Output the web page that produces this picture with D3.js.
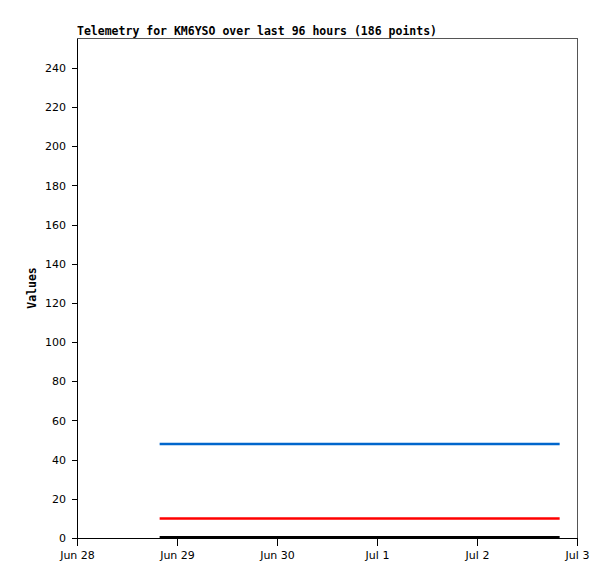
<!DOCTYPE html>
<html>
<head>
<meta charset="utf-8">
<script src="https://cdn.jsdelivr.net/npm/d3@7"></script>
<style>
  body { margin: 0; background: #fff; }
  .axis text { font-family: "DejaVu Sans", sans-serif; font-size: 11px; fill: #000; }
  .axis path, .axis line { stroke: #000; shape-rendering: crispEdges; }
</style>
</head>
<body>
<div id="chart"></div>
<script>
var margin = { top: 38, left: 77, right: 38, bottom: 41 };
var width = 615, height = 579;

// series readings (hourly-ish samples, values constant over the window)
var times = ['2025-06-28T19:50', '2025-06-29T12:00', '2025-06-30T12:00', '2025-07-01T12:00', '2025-07-02T12:00', '2025-07-02T19:50'];
var ch1 = [48, 48, 48, 48, 48, 48];
var ch2 = [10, 10, 10, 10, 10, 10];
var ch3 = [0.4, 0.4, 0.4, 0.4, 0.4, 0.4];
var seriesColors = ['#0066cc', '#ff0000', '#000000'];
var xTicks = ['2025-06-28', '2025-06-29', '2025-06-30', '2025-07-01', '2025-07-02', '2025-07-03'];
var yTicks = [0, 20, 40, 60, 80, 100, 120, 140, 160, 180, 200, 220, 240];

var parse = d3.timeParse('%Y-%m-%dT%H:%M');
var parseDay = d3.timeParse('%Y-%m-%d');

var svg = d3.select('#chart').append('svg')
  .attr('width', width).attr('height', height)
  .append('g')
  .attr('transform', 'translate(' + margin.left + ',' + margin.top + ')');

width = width - margin.left - margin.right;
height = height - margin.top - margin.bottom;

var x = d3.scaleTime()
  .domain([parseDay(xTicks[0]), parseDay(xTicks[xTicks.length - 1])])
  .range([0, width]);
var y = d3.scaleLinear().domain([0, 255.3]).range([height, 0]);

// frame (top and right)
svg.append('path')
  .attr('d', 'M0,0.5H' + (width + 0.5) + 'V' + height)
  .attr('fill', 'none').attr('stroke', '#555').attr('shape-rendering', 'crispEdges');

var line = d3.line()
  .x(function(d) { return x(d.t); })
  .y(function(d) { return y(d.v); });

[ch1, ch2, ch3].forEach(function(vals, i) {
  var data = times.map(function(t, j) { return { t: parse(t), v: vals[j] }; });
  svg.append('path')
    .datum(data)
    .attr('fill', 'none')
    .attr('stroke', seriesColors[i])
    .attr('stroke-width', 2.5)
    .attr('d', line);
});

var xAxis = d3.axisBottom(x)
  .tickValues(xTicks.map(parseDay))
  .tickFormat(d3.timeFormat('%b %-d'))
  .tickSize(8).tickSizeOuter(0).tickPadding(5);
svg.append('g').attr('class', 'axis')
  .attr('transform', 'translate(0,' + height + ')')
  .call(xAxis);

var yAxis = d3.axisLeft(y).tickValues(yTicks).tickSize(5).tickSizeOuter(0).tickPadding(6);
svg.append('g').attr('class', 'axis').call(yAxis);

svg.append('text')
  .attr('x', 0).attr('y', -3)
  .style('font-family', '"DejaVu Sans Mono", monospace')
  .style('font-size', '11.5px').style('font-weight', 'bold')
  .text('Telemetry for KM6YSO over last 96 hours (186 points)');

svg.append('text')
  .attr('transform', 'rotate(-90)')
  .attr('x', -height / 2).attr('y', -41)
  .attr('text-anchor', 'middle')
  .style('font-family', '"DejaVu Sans Mono", monospace')
  .style('font-size', '11.5px').style('font-weight', 'bold')
  .text('Values');
</script>
</body>
</html>
